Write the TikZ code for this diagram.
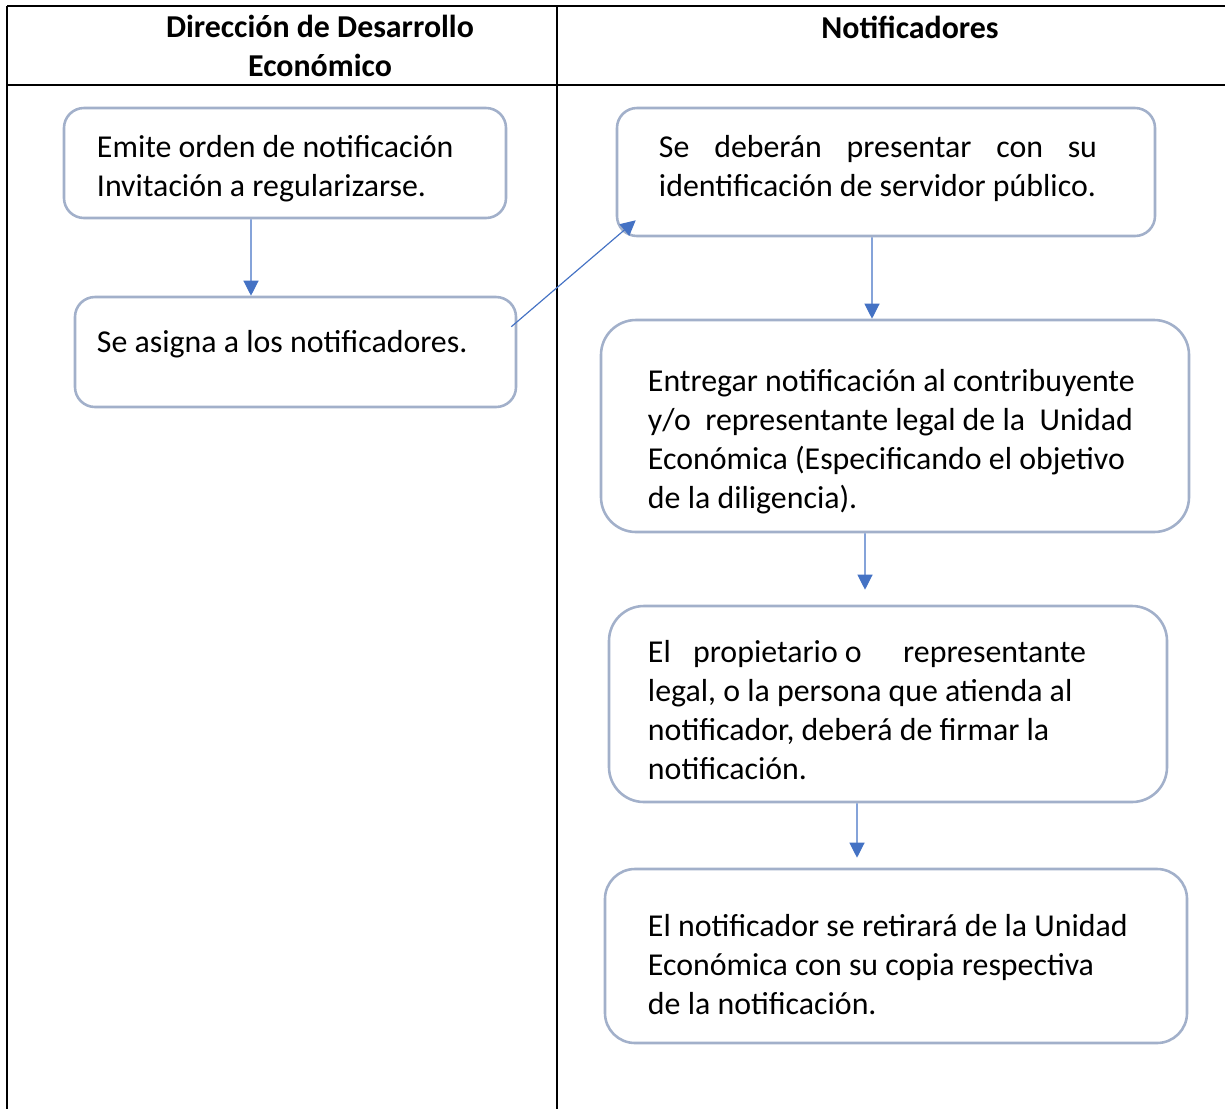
\documentclass[tikz,border=0pt]{standalone}
\usepackage{fontspec}
\setmainfont{Carlito}
\usepackage{xcolor}
\usepackage{tikz}
\usetikzlibrary{positioning,calc,arrows.meta}

\definecolor{bordecaja}{RGB}{162,176,202}
\definecolor{flecha}{RGB}{68,114,196}
\newcommand{\cuerpo}{\fontsize{27.2}{33.3}\selectfont\hyphenpenalty=10000}
% alto de la primera linea y profundo de la ultima
\newcommand{\arriba}[1]{\rule{0pt}{#1}}
\newcommand{\abajo}[1]{\rule[-#1]{0pt}{#1}}

\tikzset{
    caja/.style={draw=bordecaja, line width=2.2pt, rounded corners=0.6cm, inner sep=0pt, align=flush left, font=\cuerpo},
    flujo/.style={draw=flecha, line width=1pt, -{Triangle[length=0.45cm,width=0.45cm]}},
    tabla/.style={line width=1.7pt},
    encabezado/.style={align=center, font=\cuerpo\bfseries}
}

\begin{document}
\begin{tikzpicture}[x=0.03cm, y=-0.03cm]
    \useasboundingbox (0,0) rectangle (1225,1109);

    % marco de la tabla
    \draw[tabla] (7,6) -- (1225,6);
    \draw[tabla] (7,85) -- (1225,85);
    \draw[tabla] (7,6) -- (7,1109);
    \draw[tabla] (557,6) -- (557,1109);

    \node[encabezado] (dir) at (320,46) {Dirección de Desarrollo\\Económico};
    \node[encabezado] (noti) at (910,27) {Notificadores};

    % columna izquierda
    \node[caja, minimum width=13.26cm, minimum height=3.3cm, text width=11.28cm] (emite) at (285,163)
        {\arriba{1.2cm}Emite orden de notificación\\Invitación a regularizarse.\abajo{0.345cm}};
    \node[caja, minimum width=13.23cm, minimum height=3.3cm, text width=11.91cm] (asigna) at (295.5,352)
        {\arriba{1.2cm}Se asigna a los notificadores.\abajo{1.185cm}};

    % columna derecha
    \node[caja, minimum width=16.14cm, minimum height=3.84cm, text width=13.62cm] (presentar) at (886,172)
        {\arriba{1.2cm}\makebox[13.14cm][s]{Se deberán presentar con su}\\identificación de servidor público.\abajo{0.885cm}};
    \node[caja, rounded corners=1.05cm, minimum width=17.64cm, minimum height=6.36cm, text width=14.82cm] (entregar) at (895,426)
        {\arriba{1.8cm}Entregar notificación al contribuyente\\y/o\ \ representante legal de la\ \ Unidad\\Económica (Especificando el objetivo\\de la diligencia).\abajo{0.345cm}};
    \node[caja, rounded corners=1.05cm, minimum width=16.74cm, minimum height=5.88cm, text width=14.4cm] (firmar) at (888,704)
        {\arriba{1.38cm}El\hspace{0.7em}propietario o\hspace{1.3em}representante\\legal, o la persona que atienda al\\notificador, deberá de firmar la\\notificación.\abajo{0.345cm}};
    \node[caja, rounded corners=0.9cm, minimum width=17.46cm, minimum height=5.22cm, text width=14.88cm] (retira) at (896,956)
        {\arriba{1.5cm}El notificador se retirará de la Unidad\\Económica con su copia respectiva\\de la notificación.\abajo{0.345cm}};

    \draw[flujo] ([xshift=-1.02cm]emite.south) -- ([xshift=-1.335cm]asigna.north);
    \draw[flujo] ([xshift=-0.18cm,yshift=-0.93cm]asigna.north east) -- ([xshift=0.6cm,yshift=0.51cm]presentar.south west);
    \draw[flujo] ([xshift=-0.42cm]presentar.south) -- ([xshift=-0.69cm]entregar.north);
    \draw[flujo] ([xshift=-0.9cm]entregar.south) -- ([xshift=-0.69cm,yshift=0.45cm]firmar.north);
    \draw[flujo] ([xshift=-0.93cm]firmar.south) -- ([xshift=-1.17cm,yshift=0.3cm]retira.north);
\end{tikzpicture}
\end{document}
